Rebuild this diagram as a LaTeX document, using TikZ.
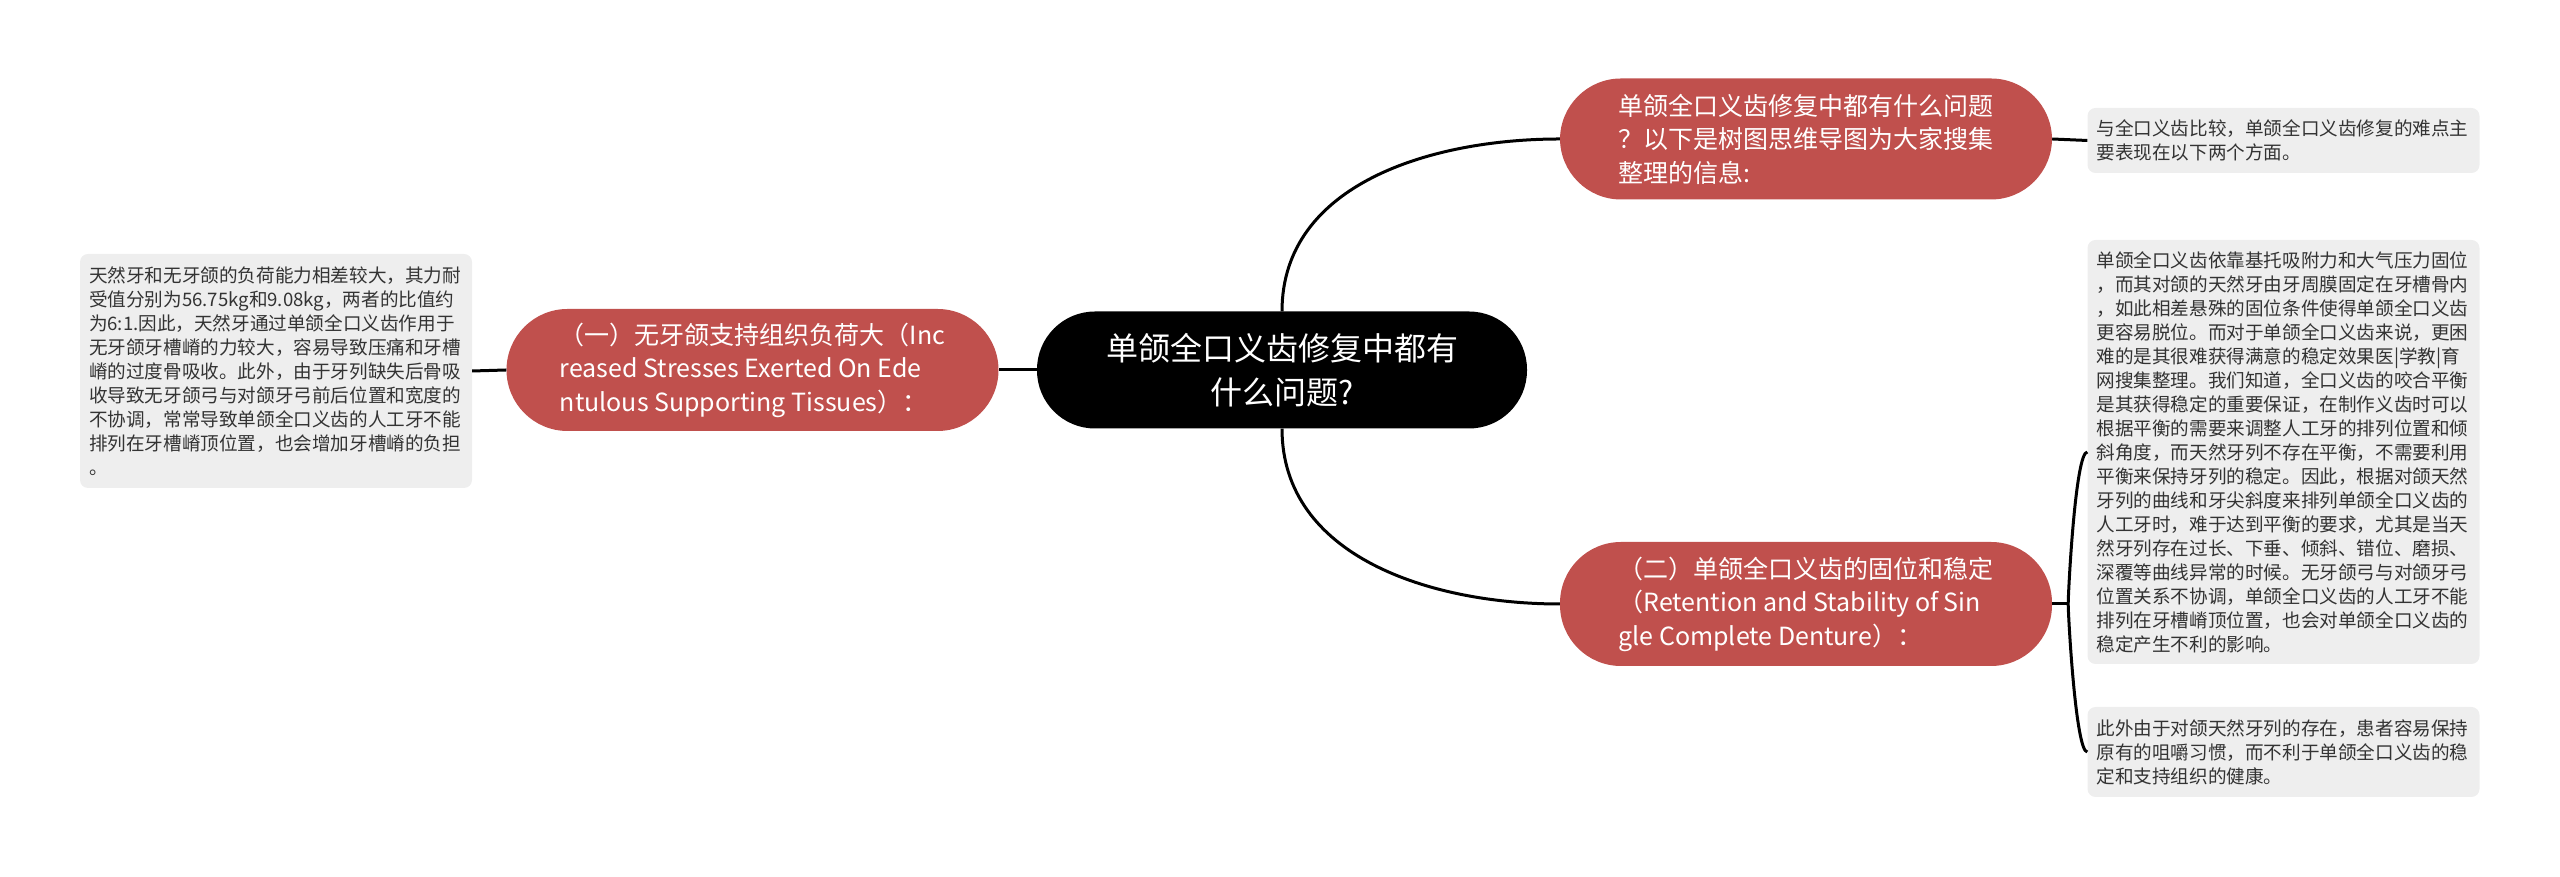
\documentclass[tikz,border=0pt]{standalone}
\usepackage{fontspec}
\setmainfont{Noto Sans CJK SC}
\usetikzlibrary{positioning}
\definecolor{topicred}{RGB}{192,80,77}
\definecolor{notegray}{RGB}{238,238,238}
\definecolor{notetext}{RGB}{51,51,51}
\tikzset{
  root/.style={fill=black, text=white, rounded corners=58pt, minimum width=490pt, minimum height=117pt, align=center, font=\fontsize{32}{44}\selectfont},
  topic/.style={fill=topicred, text=white, rounded corners=61pt, minimum width=492pt, minimum height=122pt, align=left, font=\fontsize{25}{33.5}\selectfont},
  note/.style={fill=notegray, text=notetext, rounded corners=8pt, text width=374pt, inner xsep=9pt, inner ysep=6pt, align=left, font=\fontsize{18.6}{24}\selectfont},
  link/.style={line width=3pt, black}
}

\begin{document}
\begin{tikzpicture}[x=1pt,y=1pt]
  \useasboundingbox (0,0) rectangle (2560,877);
  % centre and main branches
  \node[root] (root) at (1282,507) {单颌全口义齿修复中都有\\什么问题?};
  \node[topic] (tL) at (752.5,507) {（一）无牙颌支持组织负荷大（Inc\\reased Stresses Exerted On Ede\\ntulous Supporting Tissues）：};
  \node[topic, minimum height=121pt] (q1) at (1806,738) {单颌全口义齿修复中都有什么问题\\？以下是树图思维导图为大家搜集\\整理的信息:};
  \node[topic, minimum height=124pt] (q2) at (1806,273) {（二）单颌全口义齿的固位和稳定\\（Retention and Stability of Sin\\gle Complete Denture）：};
  % notes
  \node[note, minimum height=234pt] (nL) at (276,506) {天然牙和无牙颌的负荷能力相差较大，其力耐\\受值分别为56.75kg和9.08kg，两者的比值约\\为6:1.因此，天然牙通过单颌全口义齿作用于\\无牙颌牙槽嵴的力较大，容易导致压痛和牙槽\\嵴的过度骨吸收。此外，由于牙列缺失后骨吸\\收导致无牙颌弓与对颌牙弓前后位置和宽度的\\不协调，常常导致单颌全口义齿的人工牙不能\\排列在牙槽嵴顶位置，也会增加牙槽嵴的负担\\。};
  \node[note, minimum height=65pt] (n1) at (2283.5,736.5) {与全口义齿比较，单颌全口义齿修复的难点主\\要表现在以下两个方面。};
  \node[note, minimum height=424pt] (n2) at (2283.5,425) {单颌全口义齿依靠基托吸附力和大气压力固位\\，而其对颌的天然牙由牙周膜固定在牙槽骨内\\，如此相差悬殊的固位条件使得单颌全口义齿\\更容易脱位。而对于单颌全口义齿来说，更困\\难的是其很难获得满意的稳定效果医|学教|育\\网搜集整理。我们知道，全口义齿的咬合平衡\\是其获得稳定的重要保证，在制作义齿时可以\\根据平衡的需要来调整人工牙的排列位置和倾\\斜角度，而天然牙列不存在平衡，不需要利用\\平衡来保持牙列的稳定。因此，根据对颌天然\\牙列的曲线和牙尖斜度来排列单颌全口义齿的\\人工牙时，难于达到平衡的要求，尤其是当天\\然牙列存在过长、下垂、倾斜、错位、磨损、\\深覆等曲线异常的时候。无牙颌弓与对颌牙弓\\位置关系不协调，单颌全口义齿的人工牙不能\\排列在牙槽嵴顶位置，也会对单颌全口义齿的\\稳定产生不利的影响。};
  \node[note, minimum height=90pt] (n3) at (2283.5,125) {此外由于对颌天然牙列的存在，患者容易保持\\原有的咀嚼习惯，而不利于单颌全口义齿的稳\\定和支持组织的健康。};
  % connectors
  \draw[link] (root.north) to[out=90,in=180] (q1.west);
  \draw[link] (root.south) to[out=-90,in=180] (q2.west);
  \draw[link] (root.west) -- (tL.east);
  \draw[link] (tL.west) -- (nL.east);
  \draw[link] (q1.east) -- (n1.west);
  \path (q2.east) ++(16,0) coordinate (jn);
  \draw[link] (q2.east) -- (jn);
  \draw[link] (jn) to[out=90,in=180,looseness=0.2] (n2.west);
  \draw[link] (jn) to[out=-90,in=180,looseness=0.2] (n3.west);
\end{tikzpicture}
\end{document}
